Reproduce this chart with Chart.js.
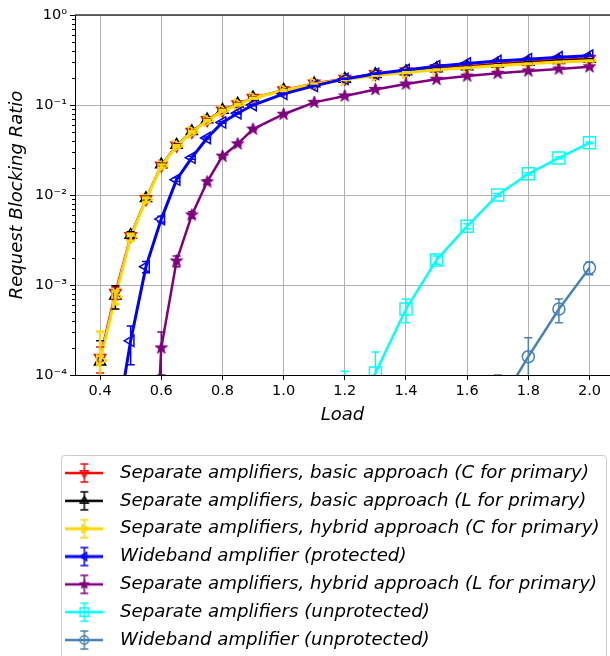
<!DOCTYPE html>
<html>
<head>
<meta charset="utf-8">
<script src="https://cdn.jsdelivr.net/npm/chart.js@4.4.1/dist/chart.umd.min.js"></script>
<style>
  body { margin: 0; background: #fff; }
  canvas { display: block; }
</style>
</head>
<body>
<canvas id="blocking" width="610" height="656"></canvas>
<script>
// load points (x) shared by every curve
const loads = [0.4, 0.45, 0.5, 0.55, 0.6, 0.65, 0.7, 0.75, 0.8, 0.85, 0.9, 1.0, 1.1, 1.2, 1.3, 1.4, 1.5, 1.6, 1.7, 1.8, 1.9, 2.0];
const xTicks = [0.4, 0.6, 0.8, 1.0, 1.2, 1.4, 1.6, 1.8, 2.0];
const yTicks = [1e-4, 1e-3, 1e-2, 1e-1, 1];
const yTickLabels = ['10⁻⁴', '10⁻³', '10⁻²', '10⁻¹', '10⁰'];

const labels = [
  'Separate amplifiers, basic approach (C for primary)',
  'Separate amplifiers, basic approach (L for primary)',
  'Separate amplifiers, hybrid approach (C for primary)',
  'Wideband amplifier (protected)',
  'Separate amplifiers, hybrid approach (L for primary)',
  'Separate amplifiers (unprotected)',
  'Wideband amplifier (unprotected)'
];

const basicC = [1.55e-4, 8.2e-4, 3.5e-3, 9.0e-3, 0.0213, 0.0355, 0.0505, 0.068, 0.087, 0.102, 0.120, 0.146, 0.173, 0.196, 0.221, 0.237, 0.257, 0.270, 0.287, 0.302, 0.318, 0.327];
const basicCErr = [5e-5, 1.3e-4, 3e-4, 5e-4, 8e-4, 1e-3, 1.2e-3, 1.4e-3, 1.5e-3, 1.6e-3, 1.7e-3, 1.8e-3, 2e-3, 2e-3, 2e-3, 2e-3, 2e-3, 2e-3, 2e-3, 2e-3, 2e-3, 2e-3];
const basicL = [1.4e-4, 7.6e-4, 3.6e-3, 9.2e-3, 0.0218, 0.036, 0.051, 0.069, 0.088, 0.103, 0.121, 0.147, 0.173, 0.195, 0.219, 0.236, 0.255, 0.268, 0.285, 0.300, 0.315, 0.325];
const basicLErr = [1e-4, 2.2e-4, 3e-4, 5e-4, 8e-4, 1e-3, 1.2e-3, 1.4e-3, 1.5e-3, 1.6e-3, 1.7e-3, 1.8e-3, 2e-3, 2e-3, 2e-3, 2e-3, 2e-3, 2e-3, 2e-3, 2e-3, 2e-3, 2e-3];
const hybridC = [1.45e-4, 7.4e-4, 3.4e-3, 8.9e-3, 0.0210, 0.035, 0.050, 0.067, 0.086, 0.101, 0.119, 0.145, 0.171, 0.192, 0.213, 0.229, 0.246, 0.259, 0.274, 0.287, 0.301, 0.310];
const hybridCErr = [1.6e-4, 1.3e-4, 3e-4, 5e-4, 8e-4, 1e-3, 1.2e-3, 1.4e-3, 1.5e-3, 1.6e-3, 1.7e-3, 1.8e-3, 2e-3, 2e-3, 2e-3, 2e-3, 2e-3, 2e-3, 2e-3, 2e-3, 2e-3, 2e-3];
const wideProt = [null, 2.3e-5, 2.4e-4, 1.6e-3, 5.4e-3, 0.0148, 0.026, 0.043, 0.064, 0.081, 0.100, 0.133, 0.163, 0.195, 0.222, 0.245, 0.270, 0.290, 0.308, 0.322, 0.339, 0.353];
const wideProtErr = [null, 2e-5, 1.1e-4, 2.3e-4, 4e-4, 7e-4, 1e-3, 1.2e-3, 1.4e-3, 1.5e-3, 1.6e-3, 1.8e-3, 2e-3, 2e-3, 2e-3, 2e-3, 2e-3, 2e-3, 2e-3, 2e-3, 2e-3, 2e-3];
const hybridL = [null, null, null, 1e-7, 2.0e-4, 1.85e-3, 6.0e-3, 0.014, 0.027, 0.037, 0.054, 0.079, 0.107, 0.126, 0.149, 0.171, 0.193, 0.210, 0.225, 0.239, 0.251, 0.266];
const hybridLErr = [null, null, null, null, 1e-4, 2.5e-4, 5e-4, 8e-4, 1e-3, 1.2e-3, 1.4e-3, 1.6e-3, 1.8e-3, 2e-3, 2e-3, 2e-3, 2e-3, 2e-3, 2e-3, 2e-3, 2e-3, 2e-3];
const sepUnprot = [null, null, null, null, null, null, null, null, null, null, null, null, null, 3e-5, 1.05e-4, 5.4e-4, 1.9e-3, 4.5e-3, 0.0100, 0.0172, 0.0258, 0.038];
const sepUnprotErr = [null, null, null, null, null, null, null, null, null, null, null, null, null, 8e-5, 7.5e-5, 1.6e-4, 2e-4, 3e-4, 4e-4, 5e-4, 6e-4, 8e-4];
const wideUnprot = [null, null, null, null, null, null, null, null, null, null, null, null, null, null, null, null, null, null, 4.4e-5, 1.6e-4, 5.4e-4, 1.55e-3];
const wideUnprotErr = [null, null, null, null, null, null, null, null, null, null, null, null, null, null, null, null, null, null, 5.6e-5, 1e-4, 1.6e-4, 2.5e-4];

const values = [basicC, basicL, hybridC, wideProt, hybridL, sepUnprot, wideUnprot];
const errors = [basicCErr, basicLErr, hybridCErr, wideProtErr, hybridLErr, sepUnprotErr, wideUnprotErr];
const colors = ['#ff0000', '#000000', '#ffd700', '#0000ff', '#800080', '#00ffff', '#4682b4'];
const lineWidths = [2.5, 1.2, 3, 3, 2.5, 2.5, 2.5];
const markers = [
  { style: 'triangle', rotation: 180, radius: 6.5 },
  { style: 'triangle', rotation: 0, radius: 6.5 },
  { style: 'triangle', rotation: 90, radius: 6.5 },
  { style: 'triangle', rotation: 270, radius: 6.5 },
  { style: 'star', rotation: 0, radius: 6.5 },
  { style: 'rect', rotation: 0, radius: 8.5 },
  { style: 'circle', rotation: 0, radius: 6 }
];

const font = 'DejaVu Sans';

// filled star, drawn once as an image
function starImage(color, r) {
  const c = document.createElement('canvas');
  c.width = c.height = Math.ceil(r * 2 + 2);
  const g = c.getContext('2d');
  const cx = c.width / 2, cy = c.height / 2;
  g.beginPath();
  for (let k = 0; k < 10; k++) {
    const rr = k % 2 ? r * 0.4 : r;
    const a = -Math.PI / 2 + k * Math.PI / 5;
    g.lineTo(cx + rr * Math.cos(a), cy + rr * Math.sin(a));
  }
  g.closePath();
  g.fillStyle = color;
  g.strokeStyle = color;
  g.fill();
  g.stroke();
  return c;
}

function pointStyleFor(i) {
  const m = markers[i];
  if (m.style === 'star') return starImage(colors[i], m.radius);
  return m.style;
}

// legend icon: line + errorbar + marker
function legendIcon(i) {
  const c = document.createElement('canvas');
  c.width = 38; c.height = 26;
  const g = c.getContext('2d');
  g.strokeStyle = colors[i];
  g.lineWidth = Math.max(lineWidths[i], 2.5);
  g.beginPath(); g.moveTo(0, 13); g.lineTo(38, 13); g.stroke();
  g.lineWidth = 1.5;
  g.beginPath();
  g.moveTo(19, 4); g.lineTo(19, 22);
  g.moveTo(15, 4); g.lineTo(23, 4);
  g.moveTo(15, 22); g.lineTo(23, 22);
  g.stroke();
  const m = markers[i];
  if (m.style === 'star') {
    const s = starImage(colors[i], 5);
    g.drawImage(s, 19 - s.width / 2, 13 - s.height / 2);
  } else if (Chart.helpers && Chart.helpers.drawPoint) {
    g.fillStyle = 'rgba(0,0,0,0)';
    Chart.helpers.drawPoint(g, { pointStyle: m.style, rotation: m.rotation, radius: m.radius * 0.7, borderWidth: 1.5 }, 19, 13);
  }
  return c;
}

const datasets = labels.map((label, i) => ({
  label: label,
  data: loads.map((x, j) => ({ x: x, y: values[i][j] })),
  borderColor: colors[i],
  backgroundColor: colors[i],
  borderWidth: lineWidths[i],
  pointStyle: pointStyleFor(i),
  pointRotation: markers[i].rotation,
  pointRadius: markers[i].radius,
  pointBorderWidth: 1.5,
  pointBorderColor: colors[i],
  pointBackgroundColor: 'rgba(0,0,0,0)',
  tension: 0,
  spanGaps: false,
  order: labels.length - i
}));

const legendIcons = labels.map((l, i) => legendIcon(i));

const errorBars = {
  id: 'errorBars',
  afterDatasetsDraw(chart) {
    const { ctx, chartArea: a, scales: { x, y } } = chart;
    ctx.save();
    ctx.beginPath();
    ctx.rect(a.left, a.top, a.right - a.left, a.bottom - a.top);
    ctx.clip();
    chart.data.datasets.forEach((ds, i) => {
      ctx.strokeStyle = colors[i];
      ctx.lineWidth = i === 2 ? 2.5 : 1.5;
      ds.data.forEach((p, j) => {
        const e = errors[i][j];
        if (p.y == null || e == null) return;
        const px = x.getPixelForValue(p.x);
        const top = y.getPixelForValue(p.y + e);
        const low = p.y - e > 0 ? y.getPixelForValue(p.y - e) : a.bottom + 10;
        ctx.beginPath();
        ctx.moveTo(px, top); ctx.lineTo(px, low);
        ctx.moveTo(px - 4, top); ctx.lineTo(px + 4, top);
        ctx.moveTo(px - 4, low); ctx.lineTo(px + 4, low);
        ctx.stroke();
      });
    });
    ctx.restore();
  }
};

const frame = {
  id: 'frame',
  beforeInit(chart) {
    const fit = chart.legend.fit;
    chart.legend.fit = function () {
      fit.call(this);
      this.height = 201.7;
    };
  },
  afterLayout(chart) {
    chart.legend.left = 48.2;
    chart.legend.right = 607;
  },
  afterDraw(chart) {
    const { ctx, chartArea: a, scales: { y } } = chart;
    ctx.save();
    // top spine
    ctx.strokeStyle = '#333';
    ctx.lineWidth = 1.3;
    ctx.beginPath();
    ctx.moveTo(a.left, a.top); ctx.lineTo(a.right, a.top);
    ctx.stroke();
    // minor log ticks
    ctx.strokeStyle = '#000';
    ctx.lineWidth = 1;
    ctx.beginPath();
    for (let d = 0; d < yTicks.length - 1; d++) {
      for (let m = 2; m < 10; m++) {
        const py = Math.round(y.getPixelForValue(yTicks[d] * m)) + 0.5;
        ctx.moveTo(a.left - 3, py); ctx.lineTo(a.left, py);
      }
    }
    ctx.stroke();
    // legend frame
    ctx.strokeStyle = '#cccccc';
    ctx.beginPath();
    ctx.roundRect(61.5, 455.5, 545, 220, 3);
    ctx.stroke();
    ctx.restore();
  }
};

new Chart(document.getElementById('blocking'), {
  type: 'line',
  data: { datasets: datasets },
  options: {
    responsive: false,
    animation: false,
    events: [],
    layout: { autoPadding: false, padding: { top: 15, left: 0, right: 0, bottom: 0 } },
    plugins: {
      tooltip: { enabled: false },
      legend: {
        position: 'bottom',
        align: 'start',
        labels: {
          usePointStyle: true,
          pointStyleWidth: 53,
          padding: 9.63,
          color: '#000',
          font: { family: font, size: 18.2, style: 'italic' },
          generateLabels: () => labels.map((text, i) => ({
            text: text,
            pointStyle: legendIcons[i],
            datasetIndex: i,
            fillStyle: 'rgba(0,0,0,0)',
            strokeStyle: 'rgba(0,0,0,0)',
            lineWidth: 0,
            hidden: false,
            fontColor: '#000'
          }))
        }
      }
    },
    scales: {
      x: {
        type: 'linear',
        min: 0.318,
        max: 2.067,
        afterBuildTicks: s => { s.ticks = xTicks.map(v => ({ value: v })); },
        afterFit: s => { s.height = 79.3; s.paddingLeft = 0; s.paddingRight = 0; },
        ticks: {
          autoSkip: false,
          maxRotation: 0,
          color: '#000',
          padding: 3,
          font: { family: font, size: 14.5 },
          callback: v => v.toFixed(1)
        },
        grid: { color: '#b0b0b0', lineWidth: 1, tickColor: '#000', tickLength: 5 },
        border: { color: '#000', width: 1 },
        title: {
          display: true,
          text: 'Load',
          color: '#000',
          font: { family: font, size: 18, style: 'italic' },
          padding: { top: 0, bottom: 28.5 }
        }
      },
      y: {
        type: 'logarithmic',
        min: 1e-4,
        max: 1,
        afterBuildTicks: s => { s.ticks = yTicks.map(v => ({ value: v, major: true })); },
        afterFit: s => { s.width = 75; },
        ticks: {
          autoSkip: false,
          color: '#000',
          padding: 3,
          font: { family: font, size: 14.5 },
          callback: v => yTickLabels[yTicks.indexOf(v)]
        },
        grid: { color: '#b0b0b0', lineWidth: 1, tickColor: '#000', tickLength: 5 },
        border: { color: '#000', width: 1 },
        title: {
          display: true,
          text: 'Request Blocking Ratio',
          color: '#000',
          font: { family: font, size: 18, style: 'italic' },
          padding: { top: 7, bottom: 0 }
        }
      }
    }
  },
  plugins: [errorBars, frame]
});
</script>
</body>
</html>
